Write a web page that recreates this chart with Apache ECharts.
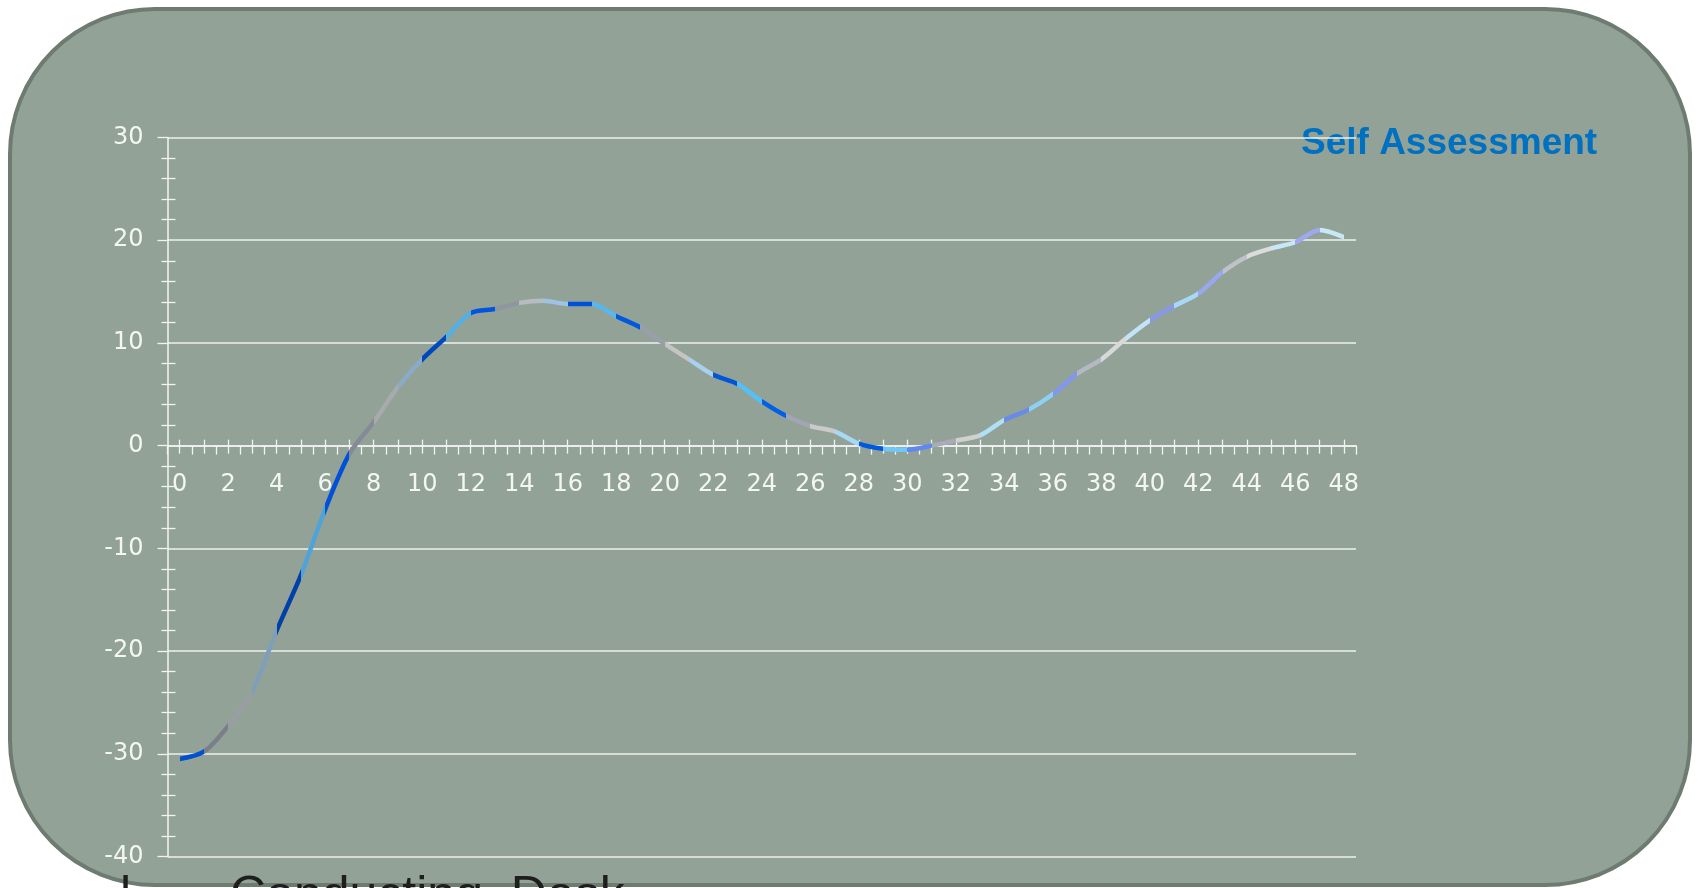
<!DOCTYPE html>
<html>
<head>
<meta charset="utf-8">
<script src="https://cdn.jsdelivr.net/npm/echarts@6/dist/echarts.min.js"></script>
<style>
html,body{margin:0;padding:0;background:#ffffff;overflow:hidden;}
#chart{width:1699px;height:888px;}
</style>
</head>
<body>
<div id="chart"></div>
<script>
// ---- data ----
const categories = ['0','1','2','3','4','5','6','7','8','9','10','11','12','13','14','15','16','17','18','19','20',
  '21','22','23','24','25','26','27','28','29','30','31','32','33','34','35','36','37','38','39','40',
  '41','42','43','44','45','46','47','48'];
const selfAssessment = [-30.5,-29.8,-27.3,-23.9,-18.0,-12.6,-6.2,-0.8,2.3,5.7,8.4,10.6,12.9,13.3,13.9,14.1,13.8,13.8,12.6,11.5,9.9,
  8.4,6.9,6.0,4.3,2.9,1.9,1.4,0.2,-0.3,-0.4,0.0,0.5,1.0,2.5,3.5,5.0,7.0,8.4,10.4,12.2,
  13.6,14.8,16.9,18.4,19.2,19.8,21.0,20.3];
const yTicks = {min: -40, max: 30, step: 10};
const chartTitle = 'Self Assessment';
const footerBullet = 'l';
const footerText = 'Conducting  Desk';

// ---- styles ----
const segmentColors = ['#0050d0','#7a7f8a','#9a9ea4','#7f9fb9','#0040a8','#4fa3d8','#0050d8','#858a96',
  '#a8aaae','#8aaac8','#0048c0','#50b0e8','#0055e0','#9095a2','#b8bcc0','#9ec4e4',
  '#0050d8','#55b8f0','#0058e0','#9a9eaa','#c4c4c4','#a8d0f0','#0055d8','#55c0f8',
  '#0060e8','#a2a6b2','#cacaca','#a8d8f8','#0058e0','#70c8f8','#6088f0','#a8acb8',
  '#d0d0d0','#b0e0f8','#6a8ae8','#8cd0f8','#8096f0','#b4b8c4','#d8d8d8','#c0e4f8',
  '#8898e8','#a8d8f8','#98a8f0','#c0c2ca','#dcdcdc','#c8e6f8','#a0a8f0','#c8e8f8'];
const axisColor = '#f2f4f2';
const labelFont = 'DejaVu Sans';

const GRID_TOP = 137.5, GRID_H = 719;
// pixel offset that lifts the category axis from the grid bottom up to the value 0
const zeroOffset = -GRID_H * (0 - yTicks.min) / (yTicks.max - yTicks.min);

const chart = echarts.init(document.getElementById('chart'), null, {renderer: 'canvas'});

const catBase = {type: 'category', data: categories, boundaryGap: true, position: 'bottom', z: 2,
  offset: zeroOffset, splitLine: {show: false}};

const footerStyle = {fontSize: 50, fontFamily: '"Liberation Sans", Arial, sans-serif', fill: '#1e1e1e',
  verticalAlign: 'top', align: 'left'};

const option = {
  animation: false,
  backgroundColor: '#ffffff',
  graphic: [
    {type: 'rect', z: -10, shape: {x: 10, y: 9, width: 1680, height: 876, r: 145},
     style: {fill: '#92a296', stroke: '#6d7b71', lineWidth: 4}},
    {type: 'text', z: 10, x: 120, y: 872, style: Object.assign({text: footerBullet}, footerStyle)},
    {type: 'text', z: 10, x: 230, y: 872, style: Object.assign({text: footerText}, footerStyle)}
  ],
  title: {text: chartTitle, left: 1296, top: 120, z: 1,
    textStyle: {color: '#0070c0', fontSize: 37, fontWeight: 'bold', fontFamily: '"Liberation Sans", Arial, sans-serif'}},
  grid: {left: 167.5, top: GRID_TOP, width: 1188.5, height: GRID_H, containLabel: false, outerBoundsMode: 'none'},
  xAxis: [
    Object.assign({}, catBase, {
      axisLine: {show: true, onZero: false, lineStyle: {color: axisColor, width: 1.5}},
      axisTick: {show: true, interval: 0, alignWithLabel: true, inside: false, length: 8, lineStyle: {color: axisColor, width: 1.3}},
      axisLabel: {show: true, interval: 1, color: '#f4f6f4', fontSize: 24, fontFamily: labelFont, margin: 27}
    }),
    Object.assign({}, catBase, {
      axisLine: {show: false, onZero: false},
      axisTick: {show: true, interval: 0, alignWithLabel: false, inside: false, length: 9, lineStyle: {color: axisColor, width: 1.3}},
      axisLabel: {show: false}
    }),
    Object.assign({}, catBase, {
      axisLine: {show: false, onZero: false},
      axisTick: {show: true, interval: 0, alignWithLabel: true, inside: true, length: 6, lineStyle: {color: axisColor, width: 1.3}},
      axisLabel: {show: false}
    })
  ],
  yAxis: [
    {type: 'value', min: yTicks.min, max: yTicks.max, interval: yTicks.step, position: 'left', z: 2,
     axisLine: {show: true, onZero: false, lineStyle: {color: axisColor, width: 1.5}},
     axisTick: {show: true, inside: false, length: 10, lineStyle: {color: axisColor, width: 1.3}},
     minorTick: {show: true, splitNumber: 5, length: 6, lineStyle: {color: axisColor, width: 1.3}},
     splitLine: {show: true, lineStyle: {color: '#eef0ee', width: 1.5}},
     axisLabel: {color: '#f4f6f4', fontSize: 24, fontFamily: labelFont, margin: 24}},
    {type: 'value', min: yTicks.min, max: yTicks.max, interval: yTicks.step, position: 'left', z: 2,
     axisLine: {show: false, onZero: false},
     axisTick: {show: false, inside: true},
     minorTick: {show: true, splitNumber: 5, length: 8, lineStyle: {color: axisColor, width: 1.3}},
     splitLine: {show: false},
     axisLabel: {show: false}}
  ],
  visualMap: {
    type: 'piecewise', show: false, dimension: 0, seriesIndex: 0,
    pieces: segmentColors.map((c, i) => i === segmentColors.length - 1
      ? {gte: i, lte: i + 1, color: c}
      : {gte: i, lt: i + 1, color: c})
  },
  series: [{
    type: 'line', name: chartTitle, data: selfAssessment, xAxisIndex: 0, yAxisIndex: 0,
    smooth: 0.3, showSymbol: false, symbol: 'none', z: 3,
    lineStyle: {width: 4.5, cap: 'round', join: 'round'}
  }]
};
chart.setOption(option);
</script>
</body>
</html>
